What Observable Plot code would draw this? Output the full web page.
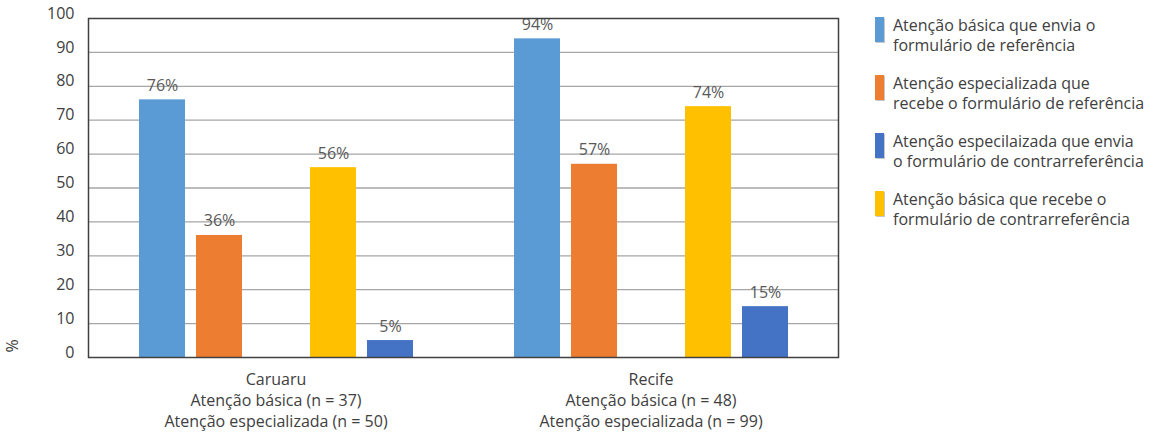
<!DOCTYPE html>
<html>
<head>
<meta charset="utf-8">
<script src="https://cdn.jsdelivr.net/npm/d3@7"></script>
<script src="https://cdn.jsdelivr.net/npm/@observablehq/plot@0.6"></script>
<style>
  body { margin: 0; background: #fff; font-family: "Open Sans", sans-serif; }
  #wrap { position: relative; width: 1153px; height: 435px; }
  #legend { position: absolute; left: 875px; top: 15px; }
  .item { display: flex; align-items: flex-start; margin-bottom: 18px; }
  .sw { width: 9px; height: 25px; margin-top: 2px; margin-right: 9px; flex: none; box-shadow: 1px 1px 0 #c8c8c8; }
  .lab { font-size: 16px; line-height: 20px; color: #404040; white-space: pre; }
</style>
</head>
<body>
<div id="wrap"><div id="legend"></div></div>
<script>
const cities = ["Caruaru", "Recife"];
const cityLabels = [
  "Caruaru\nAtenção básica (n = 37)\nAtenção especializada (n = 50)",
  "Recife\nAtenção básica (n = 48)\nAtenção especializada (n = 99)"
];
const series = [
  "Atenção básica que envia o\nformulário de referência",
  "Atenção especializada que\nrecebe o formulário de referência",
  "Atenção especilaizada que envia\no formulário de contrarreferência",
  "Atenção básica que recebe o\nformulário de contrarreferência"
];
const seriesColors = ["#5B9BD5", "#ED7D31", "#4472C4", "#FFC000"];
const caruaruValues = [76, 36, 5, 56];
const recifeValues = [94, 57, 15, 74];
const yTicks = [0, 10, 20, 30, 40, 50, 60, 70, 80, 90, 100];
const gridTicks = [10, 20, 30, 40, 50, 60, 70, 80, 90];
// slot order of bars inside each group (one empty slot)
const slotOrder = [series[0], series[1], "—", series[3], series[2]];

const data = [];
[caruaruValues, recifeValues].forEach((vals, ci) => {
  vals.forEach((v, si) => data.push({city: cities[ci], series: series[si], value: v}));
});

const chart = Plot.plot({
  width: 1153,
  height: 435,
  marginLeft: 88,
  marginRight: 315,
  marginTop: 18,
  marginBottom: 78,
  style: {fontFamily: "'Open Sans', sans-serif", fontSize: "16px", background: "#fff"},
  fx: {domain: cities, padding: 0, label: null},
  x: {domain: slotOrder, paddingInner: 0.2, paddingOuter: 0.86, axis: null},
  y: {domain: [0, 100], label: null},
  color: {domain: series, range: seriesColors},
  marks: [
    Plot.ruleY(gridTicks, {stroke: "#a6a6a6", strokeWidth: 1.3}),
    Plot.barY(data, {fx: "city", x: "series", y: "value", fill: "series"}),
    Plot.text(data, {fx: "city", x: "series", y: "value", text: d => d.value + "%",
      lineAnchor: "bottom", dy: -9, fill: "#595959", fontSize: 16}),
    Plot.frame({facet: "super", stroke: "#404040", strokeWidth: 1.5}),
    Plot.axisY({ticks: yTicks, tickSize: 0, tickPadding: 14, dy: -5, fontSize: 16,
      fill: "#404040", label: null}),
    Plot.axisFx({anchor: "bottom", tickSize: 0, tickPadding: 12, fontSize: 16, lineHeight: 1.32,
      lineAnchor: "top", fill: "#404040",
      tickFormat: d => cityLabels[cities.indexOf(d)], label: null}),
    Plot.text(["%"], {facet: "super", frameAnchor: "bottom-left", text: d => d,
      rotate: -90, dx: -71, dy: -5, fontSize: 16, fill: "#404040"})
  ]
});
document.getElementById("wrap").prepend(chart);

const legend = document.getElementById("legend");
series.forEach((s, i) => {
  const item = document.createElement("div");
  item.className = "item";
  const sw = document.createElement("div");
  sw.className = "sw";
  sw.style.background = seriesColors[i];
  const lab = document.createElement("div");
  lab.className = "lab";
  lab.textContent = s;
  item.append(sw, lab);
  legend.append(item);
});
</script>
</body>
</html>
